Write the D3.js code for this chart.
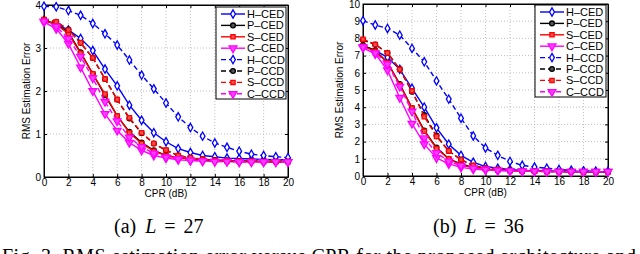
<!DOCTYPE html>
<html>
<head>
<meta charset="utf-8">
<script src="https://cdn.jsdelivr.net/npm/d3@7"></script>
<style>
  body { margin: 0; background: #fff; overflow: hidden; }
  svg { display: block; font-family: 'Liberation Sans', Arial, sans-serif; }
</style>
</head>
<body>
<script>
var WIDTH = 640, HEIGHT = 254;
var SERIF = "'Liberation Serif', 'Times New Roman', serif";

// x values (CPR in dB)
var cpr = d3.range(0, 21);

var seriesNames = ['H\u2013CED', 'P\u2013CED', 'S\u2013CED', 'C\u2013CED', 'H\u2013CCD', 'P\u2013CCD', 'S\u2013CCD', 'C\u2013CCD'];
var seriesColors = ['#0000ff', '#000000', '#ff0000', '#ff00ff', '#0000ff', '#000000', '#ff0000', '#ff00ff'];
var seriesMarkers = ['diamond', 'circle', 'square', 'triangle', 'diamond', 'circle', 'square', 'triangle'];
var seriesDashed = [false, false, false, false, true, true, true, true];

// (a) L = 27
var hCed27 = [3.64, 3.55, 3.42, 3.22, 2.94, 2.51, 2.12, 1.67, 1.32, 1.03, 0.82, 0.66, 0.57, 0.50, 0.47, 0.44, 0.43, 0.42, 0.41, 0.40, 0.40];
var pCed27 = [3.65, 3.56, 3.36, 2.90, 2.40, 1.90, 1.42, 1.05, 0.80, 0.62, 0.50, 0.45, 0.42, 0.40, 0.39, 0.38, 0.37, 0.37, 0.36, 0.36, 0.36];
var sCed27 = [3.64, 3.55, 3.33, 2.88, 2.40, 1.93, 1.42, 1.03, 0.78, 0.60, 0.50, 0.45, 0.42, 0.40, 0.39, 0.38, 0.37, 0.37, 0.36, 0.36, 0.36];
var cCed27 = [3.60, 3.45, 3.10, 2.55, 2.00, 1.47, 1.08, 0.80, 0.62, 0.50, 0.44, 0.40, 0.38, 0.37, 0.36, 0.36, 0.35, 0.35, 0.35, 0.35, 0.35];
var hCcd27 = [3.97, 3.96, 3.87, 3.76, 3.57, 3.33, 3.07, 2.72, 2.37, 2.05, 1.72, 1.40, 1.15, 0.95, 0.79, 0.69, 0.60, 0.53, 0.50, 0.47, 0.45];
var pCcd27 = [3.66, 3.61, 3.43, 3.12, 2.77, 2.28, 1.80, 1.36, 1.02, 0.78, 0.62, 0.50, 0.45, 0.41, 0.39, 0.38, 0.37, 0.37, 0.36, 0.36, 0.36];
var sCcd27 = [3.66, 3.61, 3.42, 3.12, 2.77, 2.28, 1.80, 1.38, 1.03, 0.78, 0.63, 0.50, 0.45, 0.41, 0.39, 0.38, 0.37, 0.37, 0.36, 0.36, 0.36];
var cCcd27 = [3.62, 3.50, 3.22, 2.80, 2.30, 1.75, 1.30, 0.92, 0.70, 0.55, 0.46, 0.42, 0.39, 0.37, 0.36, 0.36, 0.35, 0.35, 0.35, 0.35, 0.35];

// (b) L = 36
var hCed36 = [7.55, 7.30, 6.90, 6.20, 5.10, 4.00, 2.80, 1.85, 1.20, 0.80, 0.55, 0.45, 0.38, 0.33, 0.30, 0.28, 0.27, 0.26, 0.26, 0.25, 0.25];
var pCed36 = [7.60, 7.30, 6.60, 5.35, 3.95, 2.65, 1.65, 1.00, 0.70, 0.50, 0.40, 0.35, 0.31, 0.29, 0.28, 0.27, 0.26, 0.26, 0.25, 0.25, 0.25];
var sCed36 = [7.55, 7.25, 6.60, 5.30, 3.95, 2.60, 1.60, 1.00, 0.65, 0.48, 0.40, 0.35, 0.31, 0.29, 0.28, 0.27, 0.26, 0.26, 0.25, 0.25, 0.25];
var cCed36 = [7.45, 7.10, 6.15, 4.55, 3.05, 1.85, 1.05, 0.70, 0.50, 0.40, 0.35, 0.31, 0.29, 0.28, 0.27, 0.26, 0.25, 0.25, 0.25, 0.25, 0.25];
var hCcd36 = [9.03, 8.78, 8.58, 8.19, 7.42, 6.64, 5.53, 4.47, 3.36, 2.33, 1.63, 1.20, 0.85, 0.62, 0.52, 0.45, 0.38, 0.33, 0.30, 0.28, 0.26];
var pCcd36 = [7.90, 7.65, 7.15, 6.20, 4.90, 3.55, 2.35, 1.45, 0.95, 0.60, 0.45, 0.38, 0.33, 0.30, 0.28, 0.27, 0.26, 0.26, 0.25, 0.25, 0.25];
var sCcd36 = [7.95, 7.65, 7.15, 6.20, 4.95, 3.45, 2.30, 1.45, 0.95, 0.62, 0.45, 0.38, 0.33, 0.30, 0.28, 0.27, 0.26, 0.26, 0.25, 0.25, 0.25];
var cCcd36 = [7.50, 7.15, 6.50, 5.20, 3.75, 2.20, 1.35, 0.85, 0.60, 0.45, 0.38, 0.33, 0.30, 0.28, 0.27, 0.26, 0.25, 0.25, 0.25, 0.25, 0.25];

var xTicks = d3.range(0, 21, 2);
var yTicks27 = [0, 1, 2, 3, 4];
var yTicks36 = d3.range(0, 11);

var svg = d3.select('body').append('svg').attr('width', WIDTH).attr('height', HEIGHT);

var symbolTypes = {
    diamond: d3.symbolDiamond,
    circle: d3.symbolCircle,
    square: d3.symbolSquare,
    triangle: d3.symbolTriangle
};

function markerFill(i) {
    if (seriesMarkers[i] == 'diamond') return '#ffffff';
    if (seriesMarkers[i] == 'circle') return '#555555';
    if (seriesMarkers[i] == 'square') return '#ff5050';
    return '#ff40ff';
}

function drawMarker(g, type, i, x, y) {
    var size = type == 'triangle' ? 26 : (type == 'diamond' ? 20 : 18);
    g.append('path')
        .attr('d', d3.symbol().type(symbolTypes[type]).size(size))
        .attr('transform', 'translate(' + x + ',' + y + ')' + (type == 'triangle' ? ' rotate(180)' : ''))
        .attr('fill', markerFill(i))
        .attr('stroke', seriesColors[i])
        .attr('stroke-width', 1.3);
}

function drawPanel(opts) {
    var x = d3.scaleLinear().domain([0, 20]).range([opts.left, opts.right]);
    var y = d3.scaleLinear().domain([0, opts.yMax]).range([opts.bottom, opts.top]);
    var g = svg.append('g');

    // grid
    g.append('g').selectAll('line').data(xTicks.slice(1, -1)).enter().append('line')
        .attr('x1', d => x(d)).attr('x2', d => x(d))
        .attr('y1', opts.top).attr('y2', opts.bottom)
        .attr('stroke', '#b0b0b0').attr('stroke-width', 0.8).attr('stroke-dasharray', '1,2');
    g.append('g').selectAll('line').data(opts.yTicks.slice(1, -1)).enter().append('line')
        .attr('y1', d => y(d)).attr('y2', d => y(d))
        .attr('x1', opts.left).attr('x2', opts.right)
        .attr('stroke', '#b0b0b0').attr('stroke-width', 0.8).attr('stroke-dasharray', '1,2');

    // axes, ticks inward
    var fmt = d3.format('d');
    g.append('g').attr('transform', 'translate(0,' + opts.bottom + ')')
        .call(d3.axisBottom(x).tickValues(xTicks).tickFormat(fmt).tickSizeInner(-3).tickSizeOuter(0).tickPadding(2));
    g.append('g').attr('transform', 'translate(' + opts.left + ',0)')
        .call(d3.axisLeft(y).tickValues(opts.yTicks).tickFormat(fmt).tickSizeInner(-3).tickSizeOuter(0).tickPadding(3));
    g.append('g').attr('transform', 'translate(0,' + opts.top + ')')
        .call(d3.axisTop(x).tickValues(xTicks).tickSizeInner(-3).tickSizeOuter(0).tickFormat(''));
    g.append('g').attr('transform', 'translate(' + opts.right + ',0)')
        .call(d3.axisRight(y).tickValues(opts.yTicks).tickSizeInner(-3).tickSizeOuter(0).tickFormat(''));
    g.selectAll('.domain').attr('stroke', '#000');
    g.selectAll('.tick line').attr('stroke', '#000');
    g.selectAll('.tick text').attr('font-family', null)
        .attr('font-size', 10).attr('fill', '#000');
    g.append('rect')
        .attr('x', opts.left).attr('y', opts.top)
        .attr('width', opts.right - opts.left).attr('height', opts.bottom - opts.top)
        .attr('fill', 'none').attr('stroke', '#000').attr('stroke-width', 1);

    // series
    var line = d3.line().x((d, i) => x(cpr[i])).y(d => y(d));
    opts.series.forEach(function (vals, i) {
        var sg = g.append('g');
        sg.append('path')
            .attr('d', line(vals))
            .attr('fill', 'none')
            .attr('stroke', seriesColors[i])
            .attr('stroke-width', 1.4)
            .attr('stroke-dasharray', seriesDashed[i] ? '5,3' : null);
        vals.forEach(function (v, k) {
            drawMarker(sg, seriesMarkers[i], i, x(cpr[k]), y(v));
        });
    });

    // axis labels
    g.append('text')
        .attr('x', (opts.left + opts.right) / 2).attr('y', opts.bottom + 20)
        .attr('text-anchor', 'middle').attr('font-size', 10)
        .text('CPR (dB)');
    g.append('text')
        .attr('transform', 'translate(' + opts.yLabelX + ',' + ((opts.top + opts.bottom) / 2) + ') rotate(-90)')
        .attr('text-anchor', 'middle').attr('font-size', 10)
        .text('RMS Estimation Error');

    // legend
    var lg = g.append('g').attr('transform', 'translate(' + opts.legendX + ',' + opts.legendY + ')');
    lg.append('rect').attr('width', opts.legendW).attr('height', 92)
        .attr('fill', '#fff').attr('stroke', '#000').attr('stroke-width', 1);
    seriesNames.forEach(function (name, i) {
        var ly = 7 + i * 11.4;
        lg.append('line').attr('x1', 5).attr('x2', 29).attr('y1', ly).attr('y2', ly)
            .attr('stroke', seriesColors[i]).attr('stroke-width', 1.4)
            .attr('stroke-dasharray', seriesDashed[i] ? '5,3' : null);
        drawMarker(lg, seriesMarkers[i], i, 17, ly);
        lg.append('text').attr('x', 31).attr('y', ly + 4)
            .attr('font-size', 11).text(name);
    });

    // sub caption, math-style spacing around "="
    var cap = svg.append('text')
        .attr('x', opts.capX).attr('y', 233)
        .style('font-family', SERIF)
        .attr('font-size', 20);
    cap.append('tspan').text(opts.capLabel);
    cap.append('tspan').attr('dx', 9).attr('font-style', 'italic').text('L');
    cap.append('tspan').attr('dx', 8).text('=');
    cap.append('tspan').attr('dx', 8).text(opts.capValue);
}

drawPanel({
    left: 44, right: 288, top: 5, bottom: 177, yMax: 4, yTicks: yTicks27,
    series: [hCed27, pCed27, sCed27, cCed27, hCcd27, pCcd27, sCcd27, cCcd27],
    yLabelX: 30, legendX: 216, legendY: 7, legendW: 70,
    capX: 114, capLabel: '(a)', capValue: '27'
});

drawPanel({
    left: 363, right: 608, top: 4, bottom: 176, yMax: 10, yTicks: yTicks36,
    series: [hCed36, pCed36, sCed36, cCed36, hCcd36, pCcd36, sCcd36, cCcd36],
    yLabelX: 343, legendX: 535, legendY: 5, legendW: 71,
    capX: 433, capLabel: '(b)', capValue: '36'
});

// figure caption, cut off at the bottom edge
svg.append('text')
    .attr('x', 2).attr('y', 263)
    .style('font-family', SERIF)
    .attr('font-size', 20)
    .attr('textLength', 634)
    .attr('lengthAdjust', 'spacing')
    .text('Fig. 3.   RMS estimation error versus CPR for the proposed architecture and');
</script>
</body>
</html>
